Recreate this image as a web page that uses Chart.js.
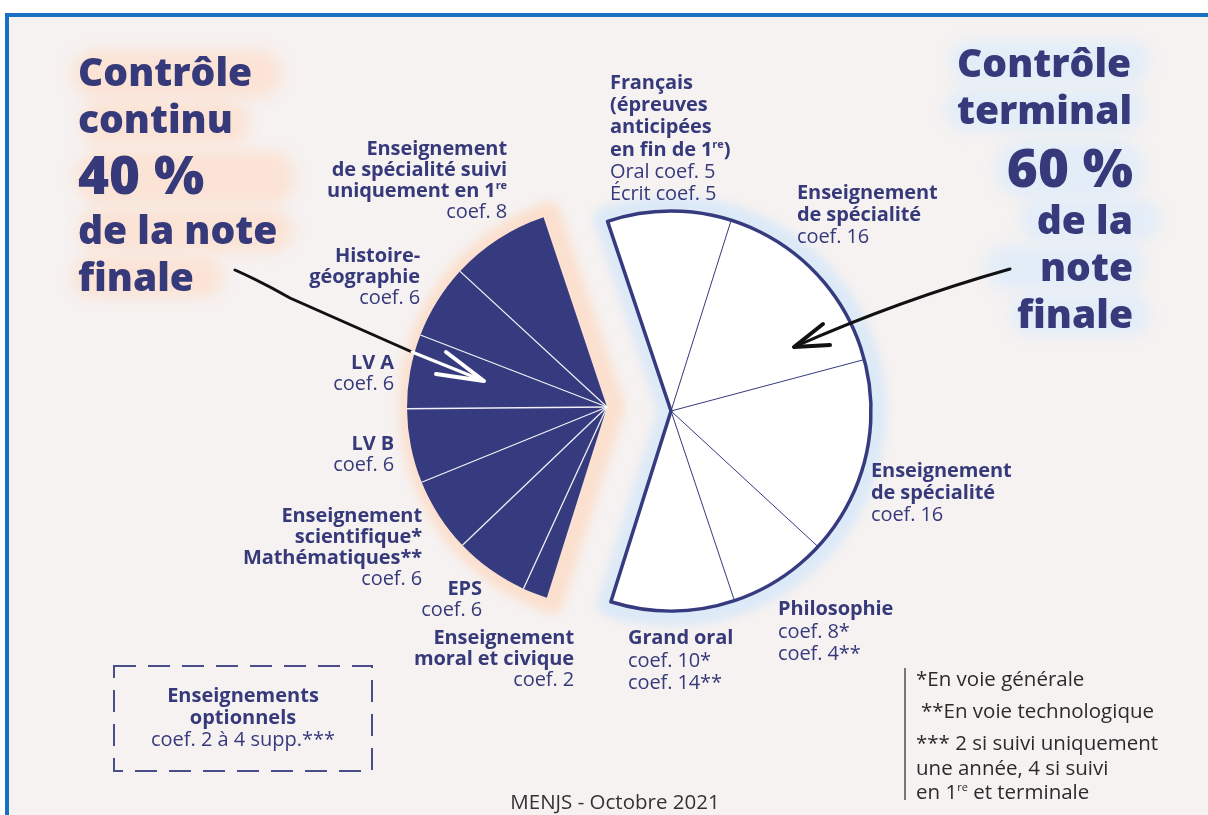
<!DOCTYPE html>
<html>
<head>
<meta charset="utf-8">
<script src="https://cdn.jsdelivr.net/npm/chart.js@4.4.0/dist/chart.umd.min.js"></script>
<style>
  body { margin: 0; width: 1208px; height: 815px; overflow: hidden; background: #fff; font-family: "Open Sans", sans-serif; color: #363a7a; }
  #frame { position: absolute; left: 5px; top: 13px; width: 1215px; height: 820px; border: 4px solid #1b70c3; background: #f6f2f1; box-sizing: border-box; }
  .blob { position: absolute; border-radius: 40px; filter: blur(7px); }
  .peach { background: #fbe3d5; }
  .blue { background: #e3edf8; }
  canvas { position: absolute; left: 0; top: 0; }
  svg { position: absolute; left: 0; top: 0; }
  .title { position: absolute; font-weight: 800; font-size: 39px; line-height: 47px; white-space: nowrap; color: #363a7a; }
  .big { font-size: 53px; line-height: 58px; }
  .lbl { position: absolute; font-size: 20px; line-height: 21px; white-space: nowrap; letter-spacing: -0.1px; }
  .lbl b { font-weight: 700; }
  .r { text-align: right; }
  sup { font-size: 11px; line-height: 0; vertical-align: 8px; }
  .note { position: absolute; left: 916px; font-size: 20.5px; line-height: 24px; color: #2b2b2b; white-space: nowrap; }
  #opttext { position: absolute; left: 113px; top: 684px; width: 260px; text-align: center; font-size: 20px; line-height: 22px; }
  #src { position: absolute; left: 0; width: 1230px; top: 787px; text-align: center; font-size: 20.5px; color: #333; }
</style>
</head>
<body>
<div id="frame"></div>

<div class="blob peach" style="left:72px;top:50px;width:210px;height:48px;"></div>
<div class="blob peach" style="left:80px;top:100px;width:170px;height:45px;"></div>
<div class="blob peach" style="left:75px;top:150px;width:220px;height:55px;"></div>
<div class="blob peach" style="left:78px;top:208px;width:215px;height:44px;"></div>
<div class="blob peach" style="left:72px;top:256px;width:150px;height:42px;"></div>
<div class="blob blue" style="left:950px;top:40px;width:200px;height:44px;"></div>
<div class="blob blue" style="left:945px;top:88px;width:200px;height:44px;"></div>
<div class="blob blue" style="left:995px;top:140px;width:150px;height:58px;"></div>
<div class="blob blue" style="left:1020px;top:198px;width:140px;height:44px;"></div>
<div class="blob blue" style="left:985px;top:245px;width:160px;height:44px;"></div>
<div class="blob blue" style="left:1010px;top:292px;width:140px;height:44px;"></div>

<canvas id="leftPie" width="1208" height="815"></canvas>
<canvas id="rightPie" width="1208" height="815"></canvas>

<svg width="1208" height="815">
  <path d="M235 270 Q262 282 290 298 L412 352" fill="none" stroke="#111" stroke-width="3" stroke-linecap="round"/>
  <path d="M412 352 L484 381" fill="none" stroke="#fff" stroke-width="3" stroke-linecap="round"/>
  <path d="M446 352 L484 381 L436 374" fill="none" stroke="#fff" stroke-width="4" stroke-linecap="round" stroke-linejoin="round"/>
  <path d="M1010 269 Q900 300 794 347" fill="none" stroke="#111" stroke-width="3" stroke-linecap="round"/>
  <path d="M823 324 L794 347 L830 345" fill="none" stroke="#111" stroke-width="4" stroke-linecap="round" stroke-linejoin="round"/>
  <rect x="114" y="666" width="258" height="105" fill="none" stroke="#4a4e88" stroke-width="2" stroke-dasharray="22 12"/>
</svg>

<div class="title" style="left:78px;top:47px;">Contrôle<br>continu</div>
<div class="title big" style="left:78px;top:145px;">40 %</div>
<div class="title" style="left:78px;top:205px;">de la note<br>finale</div>

<div class="title" style="left:957px;top:38px;">Contrôle<br>terminal</div>
<div class="title big r" style="right:75px;top:138px;">60 %</div>
<div class="title r" style="right:75px;top:195px;">de la<br>note<br>finale</div>

<div class="lbl r" style="right:701px;top:137px;"><b>Enseignement<br>de spécialité suivi<br>uniquement en 1<sup>re</sup></b><br>coef. 8</div>
<div class="lbl r" style="right:788px;top:244px;"><b>Histoire-<br>géographie</b><br>coef. 6</div>
<div class="lbl r" style="right:814px;top:351px;"><b>LV A</b><br>coef. 6</div>
<div class="lbl r" style="right:814px;top:432px;"><b>LV B</b><br>coef. 6</div>
<div class="lbl r" style="right:786px;top:504px;"><b>Enseignement<br>scientifique*<br>Mathématiques**</b><br>coef. 6</div>
<div class="lbl r" style="right:726px;top:577px;"><b>EPS</b><br>coef. 6</div>
<div class="lbl r" style="right:634px;top:626px;"><b>Enseignement<br>moral et civique</b><br>coef. 2</div>

<div class="lbl" style="left:610px;top:71px;line-height:22.2px;"><b>Français<br>(épreuves<br>anticipées<br>en fin de 1<sup>re</sup>)</b><br>Oral coef. 5<br>Écrit coef. 5</div>
<div class="lbl" style="left:797px;top:181px;line-height:22px;"><b>Enseignement<br>de spécialité</b><br>coef. 16</div>
<div class="lbl" style="left:871px;top:459px;line-height:22px;"><b>Enseignement<br>de spécialité</b><br>coef. 16</div>
<div class="lbl" style="left:778px;top:597px;line-height:22.5px;"><b>Philosophie</b><br>coef. 8*<br>coef. 4**</div>
<div class="lbl" style="left:628px;top:626px;line-height:22.5px;"><b>Grand oral</b><br>coef. 10*<br>coef. 14**</div>

<div id="opttext"><b>Enseignements<br>optionnels</b><br>coef. 2 à 4 supp.***</div>

<div style="position:absolute;left:904px;top:668px;width:2px;height:132px;background:#777;"></div>
<div class="note" style="top:666px;">*En voie générale</div>
<div class="note" style="top:698px;left:921px;">**En voie technologique</div>
<div class="note" style="top:730px;line-height:24.5px;">*** 2 si suivi uniquement<br>une année, 4 si suivi<br>en 1<sup>re</sup> et terminale</div>

<div id="src">MENJS - Octobre 2021</div>

<script>
// coefficients, clockwise from the top edge of the "terminal" half
const subjects = [
  'Français (épreuves anticipées)',
  'Enseignement de spécialité',
  'Enseignement de spécialité',
  'Philosophie',
  'Grand oral',
  'Enseignement moral et civique',
  'EPS',
  'Enseignement scientifique / Mathématiques',
  'LV B',
  'LV A',
  'Histoire-géographie',
  'Enseignement de spécialité suivi uniquement en 1re'
];
const coefs = [10, 16, 16, 8, 10, 2, 6, 6, 6, 6, 6, 8];
const modes = ['terminal', 'terminal', 'terminal', 'terminal', 'terminal',
  'continu', 'continu', 'continu', 'continu', 'continu', 'continu', 'continu'];

const NAVY = '#363b80';
const R = 200;

const sideArcs = (chart, side) => {
  const arcs = chart.getDatasetMeta(0).data;
  return arcs.filter((a, i) => modes[i] === side);
};

const sectorPath = (ctx, arcs, dx, extra) => {
  const first = arcs[0], last = arcs[arcs.length - 1];
  const x = first.x + dx, y = first.y, r = first.outerRadius + extra;
  ctx.beginPath();
  ctx.moveTo(x, y);
  ctx.arc(x, y, r, first.startAngle, last.endAngle);
  ctx.closePath();
};

const sectorDecor = {
  id: 'sectorDecor',
  beforeDatasetsDraw(chart, args, o) {
    const ctx = chart.ctx;
    const arcs = sideArcs(chart, o.side);
    ctx.save();
    ctx.filter = 'blur(4px)';
    ctx.fillStyle = o.halo;
    ctx.strokeStyle = o.halo;
    ctx.lineWidth = o.haloWidth;
    ctx.lineJoin = 'round';
    sectorPath(ctx, arcs, o.haloDx, o.haloExtra);
    ctx.fill();
    ctx.stroke();
    ctx.restore();
  },
  afterDatasetsDraw(chart, args, o) {
    const ctx = chart.ctx;
    const arcs = sideArcs(chart, o.side);
    ctx.save();
    ctx.strokeStyle = o.lineColor;
    ctx.lineWidth = o.lineWidth;
    arcs.slice(1).forEach(a => {
      ctx.beginPath();
      ctx.moveTo(a.x, a.y);
      ctx.lineTo(a.x + a.outerRadius * Math.cos(a.startAngle), a.y + a.outerRadius * Math.sin(a.startAngle));
      ctx.stroke();
    });
    if (o.outline) {
      ctx.strokeStyle = NAVY;
      ctx.lineWidth = 3.5;
      ctx.lineJoin = 'round';
      sectorPath(ctx, arcs, 0, 0);
      ctx.stroke();
    }
    ctx.restore();
  }
};

const makePie = (id, side, cx, cy, fill, decor) => new Chart(document.getElementById(id), {
  type: 'pie',
  data: {
    labels: subjects,
    datasets: [{
      data: coefs,
      backgroundColor: modes.map(m => m === side ? fill : 'rgba(0,0,0,0)'),
      borderWidth: 0
    }]
  },
  options: {
    responsive: false,
    animation: false,
    rotation: -18.5,
    layout: { padding: { left: cx - R, right: 1208 - cx - R, top: cy - R, bottom: 815 - cy - R } },
    plugins: {
      legend: { display: false },
      tooltip: { enabled: false },
      sectorDecor: Object.assign({ side }, decor)
    }
  },
  plugins: [sectorDecor]
});

makePie('leftPie', 'continu', 607, 407, NAVY,
  { halo: '#fbe0cf', haloWidth: 20, haloDx: 8, haloExtra: 6, lineColor: 'rgba(255,255,255,0.9)', lineWidth: 1.3, outline: false });
makePie('rightPie', 'terminal', 671, 411, '#ffffff',
  { halo: '#dce9f7', haloWidth: 26, haloDx: 0, haloExtra: 2, lineColor: NAVY, lineWidth: 1, outline: true });
</script>
</body>
</html>
